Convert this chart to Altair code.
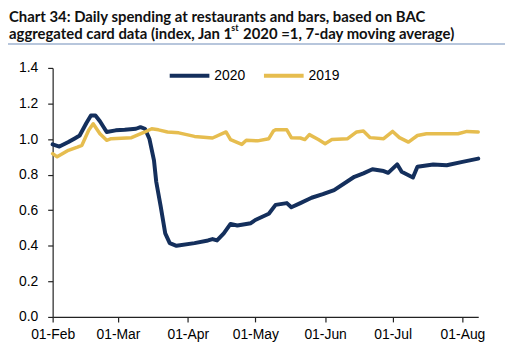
import altair as alt
import pandas as pd

# ---- data ----
dates_2020 = ["2020-02-01", "2020-02-04", "2020-02-08", "2020-02-11", "2020-02-13", "2020-02-16",
              "2020-02-18", "2020-02-20", "2020-02-22", "2020-02-25", "2020-02-29", "2020-03-04",
              "2020-03-09", "2020-03-11", "2020-03-13", "2020-03-15", "2020-03-17", "2020-03-18",
              "2020-03-20", "2020-03-22", "2020-03-24", "2020-03-27", "2020-04-04", "2020-04-10",
              "2020-04-12", "2020-04-14", "2020-04-17", "2020-04-20", "2020-04-23", "2020-04-29",
              "2020-05-01", "2020-05-07", "2020-05-10", "2020-05-15", "2020-05-17", "2020-05-21",
              "2020-05-26", "2020-05-31", "2020-06-05", "2020-06-14", "2020-06-18", "2020-06-22",
              "2020-06-27", "2020-06-29", "2020-07-03", "2020-07-05", "2020-07-10", "2020-07-12",
              "2020-07-19", "2020-07-25", "2020-08-01", "2020-08-08"]
values_2020 = [0.97, 0.958, 0.983, 1.005, 1.02, 1.09,
               1.132, 1.132, 1.10, 1.04, 1.049, 1.052,
               1.058, 1.067, 1.058, 1.00, 0.88, 0.76,
               0.62, 0.47, 0.415, 0.40, 0.415, 0.43,
               0.438, 0.43, 0.47, 0.523, 0.514, 0.527,
               0.545, 0.58, 0.63, 0.64, 0.617, 0.64,
               0.67, 0.69, 0.713, 0.788, 0.807, 0.83,
               0.82, 0.81, 0.858, 0.816, 0.784, 0.844,
               0.857, 0.853, 0.872, 0.89]

dates_2019 = ["2020-02-01", "2020-02-03", "2020-02-08", "2020-02-12", "2020-02-14", "2020-02-17",
              "2020-02-19", "2020-02-22", "2020-02-25", "2020-02-27", "2020-03-07", "2020-03-13",
              "2020-03-16", "2020-03-19", "2020-03-23", "2020-03-28", "2020-04-04", "2020-04-12",
              "2020-04-18", "2020-04-20", "2020-04-25", "2020-04-27", "2020-05-02", "2020-05-07",
              "2020-05-09", "2020-05-10", "2020-05-15", "2020-05-17", "2020-05-21", "2020-05-23",
              "2020-05-25", "2020-05-29", "2020-06-01", "2020-06-04", "2020-06-11", "2020-06-15",
              "2020-06-18", "2020-06-21", "2020-06-27", "2020-07-01", "2020-07-04", "2020-07-08",
              "2020-07-12", "2020-07-16", "2020-07-30", "2020-08-03", "2020-08-08"]
values_2019 = [0.918, 0.90, 0.937, 0.955, 0.965, 1.05,
               1.086, 1.03, 0.993, 1.002, 1.008, 1.04,
               1.058, 1.052, 1.04, 1.035, 1.015, 1.006,
               1.04, 0.997, 0.97, 0.993, 0.99, 1.002,
               1.045, 1.052, 1.052, 1.008, 1.006, 0.997,
               1.025, 0.997, 0.974, 0.997, 1.002, 1.04,
               1.045, 1.008, 1.002, 1.043, 1.008, 0.983,
               1.02, 1.03, 1.03, 1.043, 1.04]

series_names = ["2020", "2019"]
series_colors = ["#142f5c", "#e6bd4f"]
y_ticks = [0.0, 0.2, 0.4, 0.6, 0.8, 1.0, 1.2, 1.4]
x_tick_dates = ["2020-02-01", "2020-03-01", "2020-04-01", "2020-05-01",
                "2020-06-01", "2020-07-01", "2020-08-01"]
x_domain_dates = ["2020-02-01", "2020-08-08"]

title_line1 = "Chart 34: Daily spending at restaurants and bars, based on BAC"
title_line2a = "aggregated card data (index, Jan 1"
title_sup = "st"
title_line2b = "2020 =1, 7-day moving average)"

TITLE_FONT = "Lato"
AXIS_FONT = "Liberation Sans"


def ms(d):
    return int(pd.Timestamp(d, tz="UTC").value // 10**6)


df = pd.concat([
    pd.DataFrame({"date": dates_2020, "value": values_2020, "series": "2020"}),
    pd.DataFrame({"date": dates_2019, "value": values_2019, "series": "2019"}),
], ignore_index=True)

x_enc = alt.X(
    "date:T",
    scale=alt.Scale(type="utc", domain=[ms(d) for d in x_domain_dates], nice=False),
    axis=alt.Axis(values=[ms(d) for d in x_tick_dates],
                  labelExpr="utcFormat(datum.value, '%d-%b')",
                  labelOverlap=False, labelFlush=False, title=None, labelPadding=6, tickSize=5),
)
y_enc = alt.Y(
    "value:Q",
    scale=alt.Scale(domain=[0, 1.4], nice=False, zero=True),
    axis=alt.Axis(values=y_ticks, format=".1f", title=None, labelPadding=10, tickSize=5),
)
color_enc = alt.Color(
    "series:N",
    scale=alt.Scale(domain=series_names, range=series_colors),
    legend=alt.Legend(orient="none", legendX=116, legendY=-14, direction="horizontal",
                      symbolType="stroke", symbolSize=1600, symbolStrokeWidth=4,
                      labelFontSize=14, labelFont=AXIS_FONT, labelColor="#000",
                      labelOffset=3, columnPadding=10, padding=0, title=None),
)

base = alt.Chart(df).encode(x=x_enc, y=y_enc, color=color_enc)
line2020 = base.transform_filter(alt.datum.series == "2020").mark_line(
    strokeWidth=4, strokeJoin="round", strokeCap="round")
line2019 = base.transform_filter(alt.datum.series == "2019").mark_line(
    strokeWidth=3.5, strokeJoin="round", strokeCap="round")

tdf = pd.DataFrame({"t1": [title_line1], "t2a": [title_line2a], "ts": [title_sup], "t2b": [title_line2b]})
tbase = alt.Chart(tdf)
tstyle = dict(align="left", baseline="alphabetic", font=TITLE_FONT, fontWeight="bold", color="#111")
title1 = tbase.mark_text(fontSize=15, **tstyle).encode(
    x=alt.value(-44), y=alt.value(-46.5), text="t1:N")
title2a = tbase.mark_text(fontSize=15, **tstyle).encode(
    x=alt.value(-44), y=alt.value(-29), text="t2a:N")
titles = tbase.mark_text(fontSize=9, **tstyle).encode(
    x=alt.value(180), y=alt.value(-37), text="ts:N")
title2b = tbase.mark_text(fontSize=15, **tstyle).encode(
    x=alt.value(192), y=alt.value(-29), text="t2b:N")
rule = alt.Chart(pd.DataFrame({"a": [0]})).mark_rule(color="#9fb3d1", strokeWidth=1.5).encode(
    x=alt.value(-45), x2=alt.value(456), y=alt.value(-24))

chart = alt.layer(line2020, line2019, title1, title2a, titles, title2b, rule).properties(
    width=429, height=251,
    autosize=alt.AutoSizeParams(type="none"),
    padding={"left": 45, "top": 59, "right": 30, "bottom": 40},
).configure_view(stroke=None).configure_axis(
    grid=False, domainColor="#222", tickColor="#222", domainWidth=1.2, tickWidth=1.2,
    labelFont=AXIS_FONT, labelFontSize=14, labelColor="#000",
)

chart.save("out.html", embed_options={"renderer": "svg", "actions": False})
